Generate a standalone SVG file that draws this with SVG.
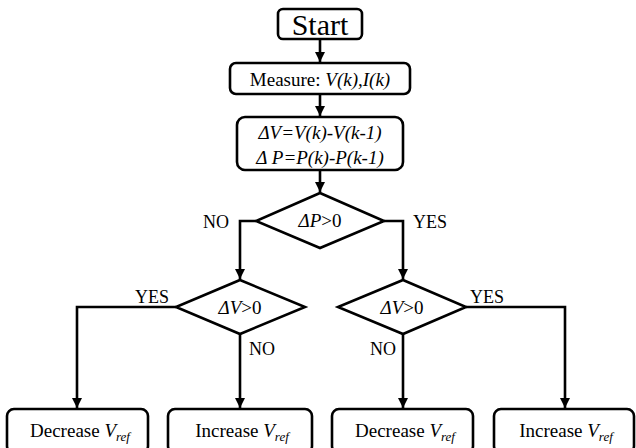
<svg xmlns="http://www.w3.org/2000/svg" width="636" height="448" viewBox="0 0 636 448">
<defs>
<style>
.n{fill:#fff;stroke:#000;stroke-width:2.6}
.c{fill:none;stroke:#000;stroke-width:2.6}
</style>
<marker id="a" viewBox="0 0 10 10" refX="10" refY="5" markerWidth="10" markerHeight="10" markerUnits="userSpaceOnUse" orient="auto">
<path d="M0,0 L10,5 L0,10 z" fill="#000"/>
</marker>
</defs>
<rect width="636" height="448" fill="#fff"/>
<g id="connectors">
<path class="c" d="M320,39 V62" marker-end="url(#a)"/>
<path class="c" d="M320,94 V116" marker-end="url(#a)"/>
<path class="c" d="M320,170 V192" marker-end="url(#a)"/>
<path class="c" d="M256,221 H240 V279" marker-end="url(#a)"/>
<path class="c" d="M384,221 H403 V279" marker-end="url(#a)"/>
<path class="c" d="M176,307 H77 V408" marker-end="url(#a)"/>
<path class="c" d="M240,334 V408" marker-end="url(#a)"/>
<path class="c" d="M403,334 V408" marker-end="url(#a)"/>
<path class="c" d="M466,307 H565 V408" marker-end="url(#a)"/>
<text style="font-family:'Liberation Serif',serif;font-size:18px" x="203" y="228">NO</text>
<text style="font-family:'Liberation Serif',serif;font-size:18px" x="413" y="228">YES</text>
<text style="font-family:'Liberation Serif',serif;font-size:18px" x="135" y="303">YES</text>
<text style="font-family:'Liberation Serif',serif;font-size:18px" x="470" y="303">YES</text>
<text style="font-family:'Liberation Serif',serif;font-size:18px" x="249" y="355">NO</text>
<text style="font-family:'Liberation Serif',serif;font-size:18px" x="370" y="355">NO</text>
</g>
<g id="start">
<rect class="n" x="278" y="9" width="84" height="30" rx="5"/>
<text style="font-family:'Liberation Serif',serif;font-size:30px" text-anchor="middle" x="320" y="35">Start</text>
</g>
<g id="measure">
<rect class="n" x="230" y="63" width="180" height="31" rx="6"/>
<text style="font-family:'Liberation Serif',serif;font-size:19px" text-anchor="middle" x="320" y="86">Measure: <tspan font-style="italic">V(k),I(k)</tspan></text>
</g>
<g id="delta">
<rect class="n" x="237" y="117" width="166" height="53" rx="8"/>
<text style="font-family:'Liberation Serif',serif;font-size:19px;font-style:italic" text-anchor="middle" x="320" y="139">ΔV=V(k)-V(k-1)</text>
<text style="font-family:'Liberation Serif',serif;font-size:19px;font-style:italic" text-anchor="middle" x="320" y="164">Δ P=P(k)-P(k-1)</text>
</g>
<g id="dP">
<polygon class="n" points="320,193 384,221 320,248 256,221"/>
<text style="font-family:'Liberation Serif',serif;font-size:19px;font-style:italic" text-anchor="middle" x="320" y="227">ΔP<tspan style="font-style:normal">&gt;0</tspan></text>
</g>
<g id="dV1">
<polygon class="n" points="240,280 305,307 240,334 176,307"/>
<text style="font-family:'Liberation Serif',serif;font-size:19px;font-style:italic" text-anchor="middle" x="240" y="314">ΔV<tspan style="font-style:normal">&gt;0</tspan></text>
</g>
<g id="dV2">
<polygon class="n" points="403,280 466,307 403,334 338,307"/>
<text style="font-family:'Liberation Serif',serif;font-size:19px;font-style:italic" text-anchor="middle" x="402" y="314">ΔV<tspan style="font-style:normal">&gt;0</tspan></text>
</g>
<g id="dec1">
<rect class="n" x="7" y="409" width="141" height="44" rx="7"/>
<text style="font-family:'Liberation Serif',serif;font-size:19px" text-anchor="middle" x="80" y="437">Decrease <tspan font-style="italic">V</tspan><tspan style="font-style:italic;font-size:13px" dy="4">ref</tspan></text>
</g>
<g id="inc1">
<rect class="n" x="168" y="409" width="144" height="44" rx="7"/>
<text style="font-family:'Liberation Serif',serif;font-size:19px" text-anchor="middle" x="242" y="437">Increase <tspan font-style="italic">V</tspan><tspan style="font-style:italic;font-size:13px" dy="4">ref</tspan></text>
</g>
<g id="dec2">
<rect class="n" x="332" y="409" width="141" height="44" rx="7"/>
<text style="font-family:'Liberation Serif',serif;font-size:19px" text-anchor="middle" x="405" y="437">Decrease <tspan font-style="italic">V</tspan><tspan style="font-style:italic;font-size:13px" dy="4">ref</tspan></text>
</g>
<g id="inc2">
<rect class="n" x="494" y="409" width="140" height="44" rx="7"/>
<text style="font-family:'Liberation Serif',serif;font-size:19px" text-anchor="middle" x="566" y="437">Increase <tspan font-style="italic">V</tspan><tspan style="font-style:italic;font-size:13px" dy="4">ref</tspan></text>
</g>
</svg>
